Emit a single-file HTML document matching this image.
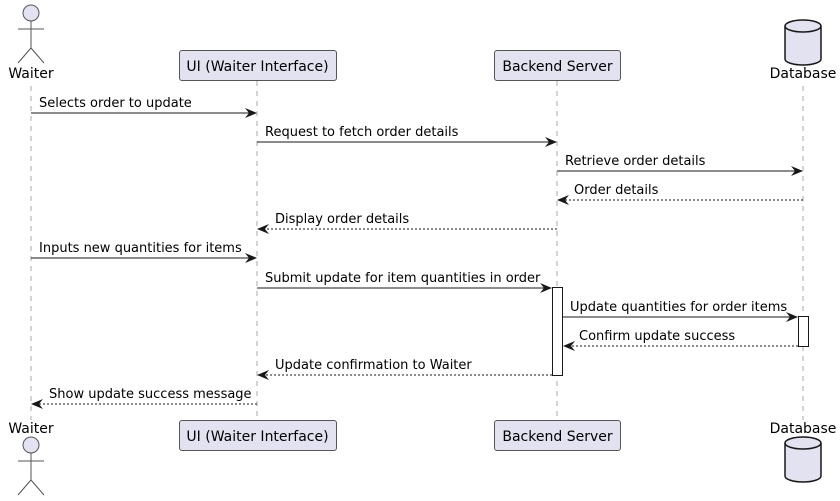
<!DOCTYPE html>
<html><head><meta charset="utf-8"><style>
html,body{margin:0;padding:0;background:#fff;}
svg{display:block;font-family:"DejaVu Sans","Liberation Sans",sans-serif;}
</style></head><body>
<svg width="840" height="501" viewBox="0 0 840 501" xmlns="http://www.w3.org/2000/svg">
<defs>
<marker id="a" viewBox="0 0 12 10" refX="11" refY="5" markerWidth="12" markerHeight="10" markerUnits="userSpaceOnUse" orient="auto">
<path d="M0,0 L12,5 L0,10 L4,5 Z" fill="#181818"/></marker>
</defs>
<g stroke="#555" stroke-width="0.5" stroke-dasharray="5,5">
<line x1="31" y1="86" x2="31" y2="420"/>
<line x1="257" y1="81" x2="257" y2="420"/>
<line x1="557" y1="81" x2="557" y2="420"/>
<line x1="803" y1="86" x2="803" y2="420"/>
</g>
<g fill="#E2E2F0" stroke="#555" stroke-width="1">
<circle cx="31" cy="13" r="8"/>
<line x1="31" y1="21" x2="31" y2="48"/><line x1="18" y1="29" x2="44" y2="29"/>
<line x1="31" y1="48" x2="18" y2="63"/><line x1="31" y1="48" x2="44" y2="63"/>
<circle cx="31" cy="445" r="8"/>
<line x1="31" y1="453" x2="31" y2="480"/><line x1="18" y1="461" x2="44" y2="461"/>
<line x1="31" y1="480" x2="18" y2="495"/><line x1="31" y1="480" x2="44" y2="495"/>
<rect x="179.5" y="50.5" width="157" height="30" rx="2.5"/>
<rect x="494.5" y="50.5" width="126" height="30" rx="2.5"/>
<rect x="179.5" y="420.5" width="157" height="30" rx="2.5"/>
<rect x="494.5" y="420.5" width="126" height="30" rx="2.5"/>
</g>
<g fill="#E2E2F0" stroke="#181818" stroke-width="1.5">
<path d="M785,26 a18,6 0 0 1 36,0 v33 a18,6 0 0 1 -36,0 Z"/>
<path d="M785,26 a18,6 0 0 0 36,0" fill="none"/>
<path d="M785,443 a18,6 0 0 1 36,0 v33 a18,6 0 0 1 -36,0 Z"/>
<path d="M785,443 a18,6 0 0 0 36,0" fill="none"/>
</g>
<g font-size="14" fill="#000" text-anchor="middle">
<text x="31" y="78">Waiter</text>
<text x="257.5" y="71">UI (Waiter Interface)</text>
<text x="557.5" y="71">Backend Server</text>
<text x="803" y="78">Database</text>
<text x="31" y="433">Waiter</text>
<text x="257.5" y="441">UI (Waiter Interface)</text>
<text x="557.5" y="441">Backend Server</text>
<text x="803" y="433">Database</text>
</g>
<rect x="552.5" y="287.5" width="10" height="88" fill="#fff" stroke="#181818"/>
<rect x="798.5" y="316.5" width="10" height="30" fill="#fff" stroke="#181818"/>
<g stroke="#181818" stroke-width="1" fill="none" marker-end="url(#a)">
<line x1="31" y1="113" x2="256" y2="113"/>
<line x1="257" y1="142" x2="556" y2="142"/>
<line x1="557" y1="171" x2="802" y2="171"/>
<line x1="803" y1="200" x2="558" y2="200" stroke-dasharray="2,2"/>
<line x1="557" y1="229" x2="258" y2="229" stroke-dasharray="2,2"/>
<line x1="31" y1="258" x2="256" y2="258"/>
<line x1="257" y1="288" x2="551" y2="288"/>
<line x1="563" y1="317" x2="797" y2="317"/>
<line x1="798" y1="346" x2="564" y2="346" stroke-dasharray="2,2"/>
<line x1="552" y1="375" x2="258" y2="375" stroke-dasharray="2,2"/>
<line x1="257" y1="404" x2="32" y2="404" stroke-dasharray="2,2"/>
</g>
<g font-size="13" fill="#000">
<text x="39" y="107">Selects order to update</text>
<text x="265" y="136">Request to fetch order details</text>
<text x="565" y="165">Retrieve order details</text>
<text x="574" y="194">Order details</text>
<text x="275" y="223">Display order details</text>
<text x="39" y="252">Inputs new quantities for items</text>
<text x="265" y="282">Submit update for item quantities in order</text>
<text x="570" y="311">Update quantities for order items</text>
<text x="579" y="340">Confirm update success</text>
<text x="275" y="369">Update confirmation to Waiter</text>
<text x="49" y="398">Show update success message</text>
</g>
</svg>
</body></html>
